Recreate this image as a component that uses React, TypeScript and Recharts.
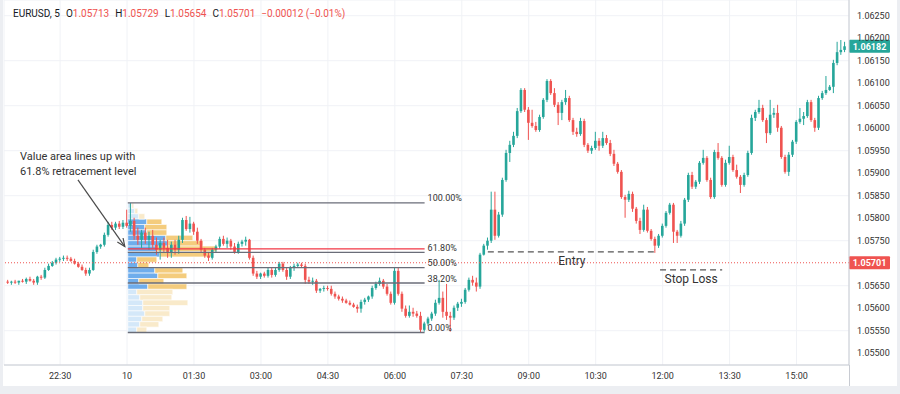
import React from 'react'
import {
  ComposedChart,
  Bar,
  XAxis,
  YAxis,
  CartesianGrid,
  ReferenceLine,
  ReferenceArea,
} from 'recharts'

const GREEN = '#26a69a'
const RED = '#ef5350'
const FIB_GRAY = '#6a6d78'

// [open, high, low, close], one row per 5 minute candle, starting 21:20
const eveningCandles = [
  [1.05659, 1.05663, 1.05654, 1.05657],
  [1.05657, 1.05661, 1.05652, 1.05659],
  [1.05659, 1.05663, 1.05654, 1.05657],
  [1.05657, 1.05661, 1.05652, 1.05661],
  [1.05661, 1.05665, 1.05657, 1.05659],
  [1.05659, 1.05668, 1.05654, 1.05665],
  [1.05665, 1.0567, 1.05659, 1.05661],
  [1.05661, 1.05665, 1.05652, 1.05657],
  [1.05657, 1.05672, 1.05652, 1.0567],
  [1.0567, 1.05674, 1.05663, 1.05668],
  [1.05668, 1.0569, 1.05665, 1.05685],
  [1.05685, 1.05699, 1.05683, 1.05694],
  [1.05694, 1.05705, 1.05692, 1.05701],
  [1.05701, 1.05712, 1.05697, 1.05708],
  [1.05708, 1.05714, 1.05703, 1.0571],
  [1.0571, 1.05717, 1.05705, 1.05712],
  [1.05712, 1.05717, 1.05705, 1.0571],
  [1.0571, 1.05714, 1.05703, 1.05705],
  [1.05705, 1.0571, 1.05697, 1.05699],
  [1.05699, 1.05703, 1.0569, 1.05692],
  [1.05692, 1.05697, 1.05683, 1.05685],
  [1.05685, 1.0569, 1.05672, 1.05677],
  [1.05677, 1.0569, 1.05672, 1.05685],
  [1.05685, 1.0573, 1.05683, 1.05725],
  [1.05725, 1.05741, 1.05721, 1.05737],
  [1.05737, 1.05743, 1.05732, 1.05741],
  [1.05741, 1.05768, 1.05737, 1.05763],
  [1.05763, 1.05792, 1.05759, 1.05785],
  [1.05785, 1.05792, 1.05774, 1.05779],
  [1.05779, 1.05792, 1.05774, 1.05788],
  [1.05788, 1.05794, 1.05776, 1.05781],
  [1.05781, 1.05796, 1.05776, 1.0579],
]

const asiaCandles = [
  [1.0579, 1.05819, 1.05779, 1.05783],
  [1.05783, 1.05834, 1.0577, 1.05794],
  [1.05794, 1.05801, 1.05752, 1.05761],
  [1.05761, 1.05779, 1.05741, 1.05752],
  [1.05752, 1.05774, 1.05734, 1.05768],
  [1.05768, 1.05779, 1.05743, 1.05752],
  [1.05752, 1.0577, 1.0573, 1.05761],
  [1.05761, 1.05774, 1.05734, 1.05741],
  [1.05741, 1.05757, 1.05719, 1.0573],
  [1.0573, 1.05752, 1.05708, 1.05745],
  [1.05745, 1.05757, 1.05725, 1.05734],
  [1.05734, 1.05752, 1.05712, 1.05725],
  [1.05725, 1.05748, 1.05712, 1.05741],
  [1.05741, 1.05752, 1.05719, 1.0573],
  [1.0573, 1.05761, 1.05721, 1.05752],
  [1.05752, 1.05801, 1.05745, 1.05796],
  [1.05796, 1.05805, 1.05772, 1.05776],
  [1.05776, 1.05803, 1.05768, 1.05788],
  [1.05788, 1.05792, 1.05763, 1.0577],
  [1.0577, 1.05779, 1.05743, 1.0575],
  [1.0575, 1.05754, 1.05723, 1.0573],
  [1.0573, 1.05734, 1.05712, 1.05717],
  [1.05717, 1.05725, 1.05705, 1.05712],
  [1.05712, 1.05734, 1.05708, 1.0573],
  [1.0573, 1.05741, 1.05725, 1.05737],
  [1.05737, 1.05759, 1.05732, 1.05754],
  [1.05754, 1.05761, 1.05739, 1.05743],
  [1.05743, 1.05757, 1.05734, 1.0575],
  [1.0575, 1.05754, 1.0573, 1.05737],
  [1.05737, 1.05745, 1.05721, 1.05725],
  [1.05725, 1.05748, 1.05721, 1.05743],
  [1.05743, 1.05752, 1.05737, 1.05748],
  [1.05748, 1.05759, 1.05739, 1.05752],
  [1.05752, 1.05754, 1.05708, 1.05712],
]

const londonCandles = [
  [1.05712, 1.05717, 1.05672, 1.05677],
  [1.05677, 1.05683, 1.05665, 1.0567],
  [1.0567, 1.05679, 1.05665, 1.05677],
  [1.05677, 1.05681, 1.05668, 1.05672],
  [1.05672, 1.0569, 1.05668, 1.05685],
  [1.05685, 1.0569, 1.05668, 1.05674],
  [1.05674, 1.0569, 1.0567, 1.05685],
  [1.05685, 1.05703, 1.05681, 1.05699],
  [1.05699, 1.05703, 1.05681, 1.05685],
  [1.05685, 1.0569, 1.05663, 1.0567],
  [1.0567, 1.05694, 1.05665, 1.0569],
  [1.0569, 1.05699, 1.05683, 1.05694],
  [1.05694, 1.05701, 1.0569, 1.05697],
  [1.05697, 1.05701, 1.0569, 1.05694],
  [1.05694, 1.05699, 1.05654, 1.05663],
  [1.05663, 1.0567, 1.05654, 1.05659],
  [1.05659, 1.05668, 1.05652, 1.05661],
  [1.05661, 1.05665, 1.05634, 1.05639],
  [1.05639, 1.05645, 1.05634, 1.05643],
  [1.05643, 1.0565, 1.05637, 1.05645],
  [1.05645, 1.0565, 1.05639, 1.05643],
  [1.05643, 1.0565, 1.05628, 1.05632],
  [1.05632, 1.05637, 1.05621, 1.05626],
  [1.05626, 1.0563, 1.05617, 1.05621],
  [1.05621, 1.05626, 1.05612, 1.05617],
  [1.05617, 1.05621, 1.0561, 1.05612],
  [1.05612, 1.05617, 1.05606, 1.05608],
  [1.05608, 1.05612, 1.05601, 1.05603],
  [1.05603, 1.05608, 1.0559, 1.05599],
  [1.05599, 1.05619, 1.0559, 1.05614],
  [1.05614, 1.05623, 1.05608, 1.05619],
  [1.05619, 1.05628, 1.05614, 1.05626],
  [1.05626, 1.0565, 1.05621, 1.05645],
  [1.05645, 1.05659, 1.05641, 1.05654],
  [1.05654, 1.05668, 1.0565, 1.05661],
  [1.05661, 1.05665, 1.05643, 1.05648],
  [1.05648, 1.05654, 1.05628, 1.05632],
  [1.05632, 1.05637, 1.05608, 1.05612],
]

const morningCandles = [
  [1.05612, 1.0569, 1.05608, 1.05683],
  [1.05683, 1.0569, 1.05628, 1.05632],
  [1.05632, 1.05637, 1.05592, 1.05599],
  [1.05599, 1.05606, 1.05579, 1.05583],
  [1.05583, 1.05606, 1.05579, 1.05592],
  [1.05592, 1.05601, 1.05581, 1.05588],
  [1.05588, 1.05594, 1.05579, 1.05583],
  [1.05583, 1.05592, 1.05546, 1.05552],
  [1.05552, 1.0557, 1.05548, 1.05566],
  [1.05566, 1.05581, 1.05561, 1.05577],
  [1.05577, 1.05592, 1.05572, 1.05588],
  [1.05588, 1.05619, 1.05583, 1.05612],
  [1.05612, 1.05663, 1.05608, 1.05623],
  [1.05623, 1.05637, 1.05579, 1.05592],
  [1.05592, 1.05654, 1.05574, 1.05583],
  [1.05583, 1.05592, 1.05548, 1.05579],
  [1.05579, 1.05606, 1.05574, 1.05601],
  [1.05601, 1.05614, 1.05594, 1.0561],
  [1.0561, 1.05621, 1.05603, 1.05614],
  [1.05614, 1.05645, 1.0561, 1.05641],
  [1.05641, 1.05668, 1.05637, 1.05663],
  [1.05663, 1.05672, 1.0565, 1.05657],
  [1.05657, 1.05668, 1.05637, 1.05648],
  [1.05648, 1.05723, 1.05643, 1.05719],
  [1.05719, 1.05743, 1.05717, 1.05739],
  [1.05739, 1.05757, 1.0573, 1.0575],
  [1.0575, 1.05859, 1.05745, 1.05819],
  [1.05819, 1.05859, 1.05752, 1.05761],
  [1.05761, 1.05814, 1.05757, 1.05808],
  [1.05808, 1.0589, 1.05803, 1.05885],
  [1.05885, 1.05952, 1.05881, 1.05945],
  [1.05945, 1.05972, 1.05925, 1.05963],
  [1.05963, 1.05992, 1.05958, 1.05983],
  [1.05983, 1.06045, 1.05978, 1.06038],
  [1.06038, 1.06089, 1.06034, 1.06085],
  [1.06085, 1.06089, 1.06036, 1.06041],
  [1.06041, 1.06047, 1.05974, 1.06012],
]

const middayCandles = [
  [1.06012, 1.06041, 1.06001, 1.06005],
  [1.06005, 1.06014, 1.05992, 1.05996],
  [1.05996, 1.0603, 1.05992, 1.06025],
  [1.06025, 1.06067, 1.06021, 1.06063],
  [1.06063, 1.06109, 1.06058, 1.06105],
  [1.06105, 1.06109, 1.06074, 1.06078],
  [1.06078, 1.06089, 1.06047, 1.06052],
  [1.06052, 1.06058, 1.06007, 1.06034],
  [1.06034, 1.06063, 1.06018, 1.06058],
  [1.06058, 1.06085, 1.06052, 1.06067],
  [1.06067, 1.06072, 1.06014, 1.06018],
  [1.06018, 1.06023, 1.05985, 1.05992],
  [1.05992, 1.06001, 1.05981, 1.05987],
  [1.05987, 1.06023, 1.05983, 1.06016],
  [1.06016, 1.06021, 1.05958, 1.05963],
  [1.05963, 1.05967, 1.05945, 1.0595],
  [1.0595, 1.05961, 1.05943, 1.05956],
  [1.05956, 1.05992, 1.05952, 1.05972],
  [1.05972, 1.05978, 1.0595, 1.05961],
  [1.05961, 1.05992, 1.05956, 1.05978],
  [1.05978, 1.05985, 1.05963, 1.05967],
  [1.05967, 1.05974, 1.05938, 1.05943],
  [1.05943, 1.05952, 1.05916, 1.05921],
  [1.05921, 1.05925, 1.05899, 1.05903],
  [1.05903, 1.05907, 1.05843, 1.05847],
  [1.05847, 1.05852, 1.05801, 1.05841],
  [1.05841, 1.05861, 1.05836, 1.05854],
  [1.05854, 1.05859, 1.05814, 1.05821],
  [1.05821, 1.05825, 1.05788, 1.05794],
  [1.05794, 1.05801, 1.05765, 1.05774],
  [1.05774, 1.0583, 1.0577, 1.05819],
  [1.05819, 1.05825, 1.05768, 1.05772],
  [1.05772, 1.05776, 1.0575, 1.05754],
  [1.05754, 1.05759, 1.05723, 1.05739],
  [1.05739, 1.05765, 1.05734, 1.05761],
  [1.05761, 1.05788, 1.05757, 1.05783],
  [1.05783, 1.05816, 1.05779, 1.05812],
  [1.05812, 1.05834, 1.05808, 1.0583],
  [1.0583, 1.05834, 1.05745, 1.0577],
  [1.0577, 1.05774, 1.05745, 1.05761],
]

const afternoonCandles = [
  [1.05761, 1.05794, 1.05757, 1.05788],
  [1.05788, 1.05845, 1.05783, 1.05841],
  [1.05841, 1.05901, 1.05836, 1.05896],
  [1.05896, 1.05903, 1.05865, 1.0587],
  [1.0587, 1.05885, 1.05865, 1.05881],
  [1.05881, 1.05927, 1.05876, 1.05923],
  [1.05923, 1.05952, 1.05919, 1.05934],
  [1.05934, 1.05938, 1.05881, 1.05885],
  [1.05885, 1.0589, 1.05843, 1.05847],
  [1.05847, 1.05952, 1.05843, 1.05947],
  [1.05947, 1.05967, 1.0593, 1.05934],
  [1.05934, 1.05938, 1.0587, 1.05874],
  [1.05874, 1.0593, 1.0587, 1.05923],
  [1.05923, 1.05961, 1.05919, 1.05936],
  [1.05936, 1.05941, 1.05903, 1.05907],
  [1.05907, 1.05919, 1.05888, 1.05892],
  [1.05892, 1.05896, 1.05856, 1.05874],
  [1.05874, 1.05901, 1.0587, 1.05896],
  [1.05896, 1.0595, 1.05892, 1.05945],
  [1.05945, 1.0603, 1.05941, 1.06023],
  [1.06023, 1.06041, 1.06016, 1.06036],
  [1.06036, 1.06063, 1.06032, 1.06045],
  [1.06045, 1.06052, 1.06014, 1.06018],
  [1.06018, 1.06023, 1.05967, 1.05989],
  [1.05989, 1.06063, 1.05985, 1.0603],
  [1.0603, 1.06045, 1.06023, 1.06034],
  [1.06034, 1.06052, 1.05992, 1.06001],
  [1.06001, 1.06005, 1.05932, 1.05936],
  [1.05936, 1.05941, 1.05899, 1.05903],
  [1.05903, 1.05947, 1.05894, 1.05941],
  [1.05941, 1.05974, 1.05936, 1.0597],
  [1.0597, 1.06018, 1.05965, 1.06014],
  [1.06014, 1.06045, 1.0601, 1.06021],
  [1.06021, 1.06036, 1.06007, 1.06027],
  [1.06027, 1.06063, 1.06023, 1.06058],
  [1.06058, 1.06063, 1.06014, 1.06018],
  [1.06018, 1.06023, 1.05992, 1.06001],
  [1.06001, 1.06072, 1.05996, 1.06067],
  [1.06067, 1.06083, 1.06063, 1.06078],
  [1.06078, 1.06116, 1.06074, 1.06085],
  [1.06085, 1.06096, 1.06083, 1.06092],
  [1.06092, 1.06152, 1.06078, 1.06145],
  [1.06145, 1.06192, 1.0614, 1.06169],
  [1.06169, 1.06196, 1.06163, 1.06174],
  [1.06174, 1.06192, 1.06169, 1.06182],
]

// time axis: candle index of each label
const xTickIdx = [14, 32, 50, 68, 86, 104, 122, 140, 158, 176, 194, 212]
const xTickLabels = ['22:30', '10', '01:30', '03:00', '04:30', '06:00', '07:30', '09:00', '10:30', '12:00', '13:30', '15:00']
// 1.05700 sits under the red price tag, so it is left out
const yTicks = [
  1.055, 1.0555, 1.056, 1.0565, 1.0575, 1.058, 1.0585, 1.059, 1.0595, 1.06, 1.0605,
  1.061, 1.0615, 1.062, 1.0625,
]

// fixed range volume profile, 24 rows from the range high down
const vpBuy = [4, 7, 11, 19, 17, 19, 38, 40, 29, 32, 9, 10, 27, 30, 11, 20, 9, 12, 15, 15, 17, 14, 12, 9]
const vpSell = [2, 3, 6, 15, 22, 20, 27, 35, 60, 53, 20, 11, 28, 29, 25, 39, 36, 32, 45, 27, 25, 21, 19, 10]
const vaFirst = 3
const vaLast = 15
const pocRow = 8
// profile width: candle slots per volume unit
const vpUnit = 0.269

const fibHigh = 1.05834
const fibLow = 1.05546
const fibLevels = [1, 0.618, 0.5, 0.382, 0]
const fibLabels = ['100.00%', '61.80%', '50.00%', '38.20%', '0.00%']
const fibStartIdx = 32.2
const fibEndIdx = 112

const lastPrice = 1.06182
const markPrice = 1.05701
const entryPrice = 1.05725
const stopPrice = 1.05685

const candles = [
  ...eveningCandles,
  ...asiaCandles,
  ...londonCandles,
  ...morningCandles,
  ...middayCandles,
  ...afternoonCandles,
].map(([o, h, l, c], i) => ({ i, o, h, l, c, range: [l, h] }))

const rowH = (fibHigh - fibLow) / vpBuy.length

const Candle = (props: any) => {
  const { x, y, width, height, payload } = props
  const { o, h, l, c } = payload
  const color = c >= o ? GREEN : RED
  const top = height >= 0 ? y : y + height
  const H = Math.abs(height)
  const k = H / (h - l || 1e-9)
  const cx = x + width / 2
  const bodyTop = top + (h - Math.max(o, c)) * k
  const bodyH = Math.max(Math.abs(o - c) * k, 1)
  return (
    <g>
      <line x1={cx} x2={cx} y1={top} y2={top + H} stroke={color} strokeWidth={1} />
      <rect x={cx - 1.3} y={bodyTop} width={2.6} height={bodyH} fill={color} />
    </g>
  )
}

const Arrow = (p: any) => {
  const { x1, y1, x2, y2 } = p
  const a = Math.atan2(y2 - y1, x2 - x1)
  const L = 8
  const W = 3.5
  const bx = x2 - L * Math.cos(a)
  const by = y2 - L * Math.sin(a)
  return (
    <g>
      <line x1={x1} y1={y1} x2={x2} y2={y2} stroke="#4a4a4a" strokeWidth={1.2} />
      <polyline
        points={`${bx - W * Math.sin(a)},${by + W * Math.cos(a)} ${x2},${y2} ${bx + W * Math.sin(a)},${by - W * Math.cos(a)}`}
        fill="none"
        stroke="#4a4a4a"
        strokeWidth={1.2}
      />
    </g>
  )
}

const fibLabel = (text: string) => (p: any) => {
  const vb = p.viewBox
  return (
    <text x={vb.x + vb.width + 3} y={vb.y - 1.5} fontSize={9} fill="#333">
      {text}
    </text>
  )
}

const noteLabel = (text: string) => (p: any) => {
  const vb = p.viewBox
  return (
    <text x={vb.x + vb.width / 2} y={vb.y + 13} fontSize={12} fill="#333" textAnchor="middle">
      {text}
    </text>
  )
}

const priceTag = (text: string, color: string) => (p: any) => {
  const vb = p.viewBox
  const x = vb.x + vb.width
  return (
    <g>
      <rect x={x} y={vb.y - 6.5} width={41} height={13} fill={color} rx={1} />
      <text x={x + 20.5} y={vb.y + 3.2} fontSize={9} fontWeight={700} fill="#fff" textAnchor="middle">
        {text}
      </text>
    </g>
  )
}

export default function App() {
  return (
    <div
      style={{
        position: 'absolute',
        left: 0,
        top: 0,
        width: 900,
        height: 394,
        background: '#eceef2',
        fontFamily: 'Roboto, sans-serif',
      }}
    >
      <div style={{ position: 'absolute', left: 3, top: 0, width: 894, height: 386, background: '#fff' }}>
        <ComposedChart width={894} height={386} data={candles} margin={{ top: 0, right: 0, bottom: 0, left: 1 }}>
          <CartesianGrid stroke="#f0f2f6" />
          <XAxis
            dataKey="i"
            type="number"
            domain={[-1.08, 226.1]}
            allowDataOverflow
            ticks={xTickIdx}
            tickFormatter={(v: number) => xTickLabels[xTickIdx.indexOf(v)]}
            tickLine={false}
            axisLine={{ stroke: '#c8cbd2' }}
            height={21}
            tick={{ fontSize: 9, fill: '#333' }}
          />
          <YAxis
            orientation="right"
            width={48}
            domain={[1.054738, 1.062849]}
            allowDataOverflow
            ticks={yTicks}
            tickFormatter={(v: number) => v.toFixed(5)}
            tickLine={false}
            axisLine={{ stroke: '#c8cbd2' }}
            tick={{ fontSize: 9, fill: '#333' }}
          />
          {vpBuy.map((b, k) => {
            const inVa = k >= vaFirst && k <= vaLast
            const y2 = fibHigh - k * rowH
            const y1 = y2 - rowH
            return (
              <ReferenceArea
                key={'b' + k}
                x1={fibStartIdx}
                x2={fibStartIdx + b * vpUnit}
                y1={y1}
                y2={y2}
                fill={inVa ? '#5ea4ea' : '#cfe5f8'}
                fillOpacity={0.9}
                stroke="#fff"
                strokeWidth={0.6}
              />
            )
          })}
          {vpSell.map((s, k) => {
            const inVa = k >= vaFirst && k <= vaLast
            const y2 = fibHigh - k * rowH
            const y1 = y2 - rowH
            return (
              <ReferenceArea
                key={'s' + k}
                x1={fibStartIdx + vpBuy[k] * vpUnit}
                x2={fibStartIdx + (vpBuy[k] + s) * vpUnit}
                y1={y1}
                y2={y2}
                fill={inVa ? '#f3c76f' : '#f8e8c4'}
                fillOpacity={0.9}
                stroke="#fff"
                strokeWidth={0.6}
              />
            )
          })}
          <ReferenceLine y={markPrice} stroke={RED} strokeDasharray="1 2" label={priceTag('1.05701', RED)} />
          <ReferenceLine y={lastPrice} stroke="none" label={priceTag('1.06182', GREEN)} />
          <Bar dataKey="range" barSize={3} shape={Candle} isAnimationActive={false} />
          <ReferenceLine
            segment={[
              { x: fibStartIdx, y: fibHigh - (pocRow + 0.5) * rowH },
              { x: fibEndIdx, y: fibHigh - (pocRow + 0.5) * rowH },
            ]}
            stroke="#f23645"
            strokeWidth={1.3}
          />
          {fibLevels.map((lv, k) => {
            const price = fibLow + lv * (fibHigh - fibLow)
            return (
              <ReferenceLine
                key={'f' + k}
                segment={[
                  { x: fibStartIdx, y: price },
                  { x: fibEndIdx, y: price },
                ]}
                stroke={FIB_GRAY}
                strokeWidth={1.3}
                label={fibLabel(fibLabels[k])}
              />
            )
          })}
          <ReferenceLine
            segment={[
              { x: 129, y: entryPrice },
              { x: 174.2, y: entryPrice },
            ]}
            stroke="#555"
            strokeWidth={1.2}
            strokeDasharray="6 4"
            label={noteLabel('Entry')}
          />
          <ReferenceLine
            segment={[
              { x: 175.3, y: stopPrice },
              { x: 192, y: stopPrice },
            ]}
            stroke="#555"
            strokeWidth={1.2}
            strokeDasharray="6 4"
            label={noteLabel('Stop Loss')}
          />
          <ReferenceLine
            segment={[
              { x: 18.8, y: 1.05885 },
              { x: 31.4, y: 1.05737 },
            ]}
            shape={Arrow}
          />
        </ComposedChart>
        <div
          style={{
            position: 'absolute',
            left: 10,
            top: 8,
            fontSize: 10,
            color: '#131722',
            whiteSpace: 'nowrap',
          }}
        >
          <span style={{ marginRight: 6 }}>EURUSD, 5</span>
          <span style={{ marginRight: 6 }}>
            O<span style={{ color: RED }}>1.05713</span>
          </span>
          <span style={{ marginRight: 6 }}>
            H<span style={{ color: RED }}>1.05729</span>
          </span>
          <span style={{ marginRight: 6 }}>
            L<span style={{ color: RED }}>1.05654</span>
          </span>
          <span style={{ marginRight: 6 }}>
            C<span style={{ color: RED }}>1.05701</span>
          </span>
          <span style={{ color: RED }}>−0.00012 (−0.01%)</span>
        </div>
        <div
          style={{
            position: 'absolute',
            left: 17,
            top: 149,
            fontSize: 11,
            lineHeight: '15px',
            color: '#333',
          }}
        >
          Value area lines up with
          <br />
          61.8% retracement level
        </div>
        <div style={{ position: 'absolute', left: 846, top: 365, width: 1, height: 21, background: '#c8cbd2' }} />
      </div>
    </div>
  )
}
